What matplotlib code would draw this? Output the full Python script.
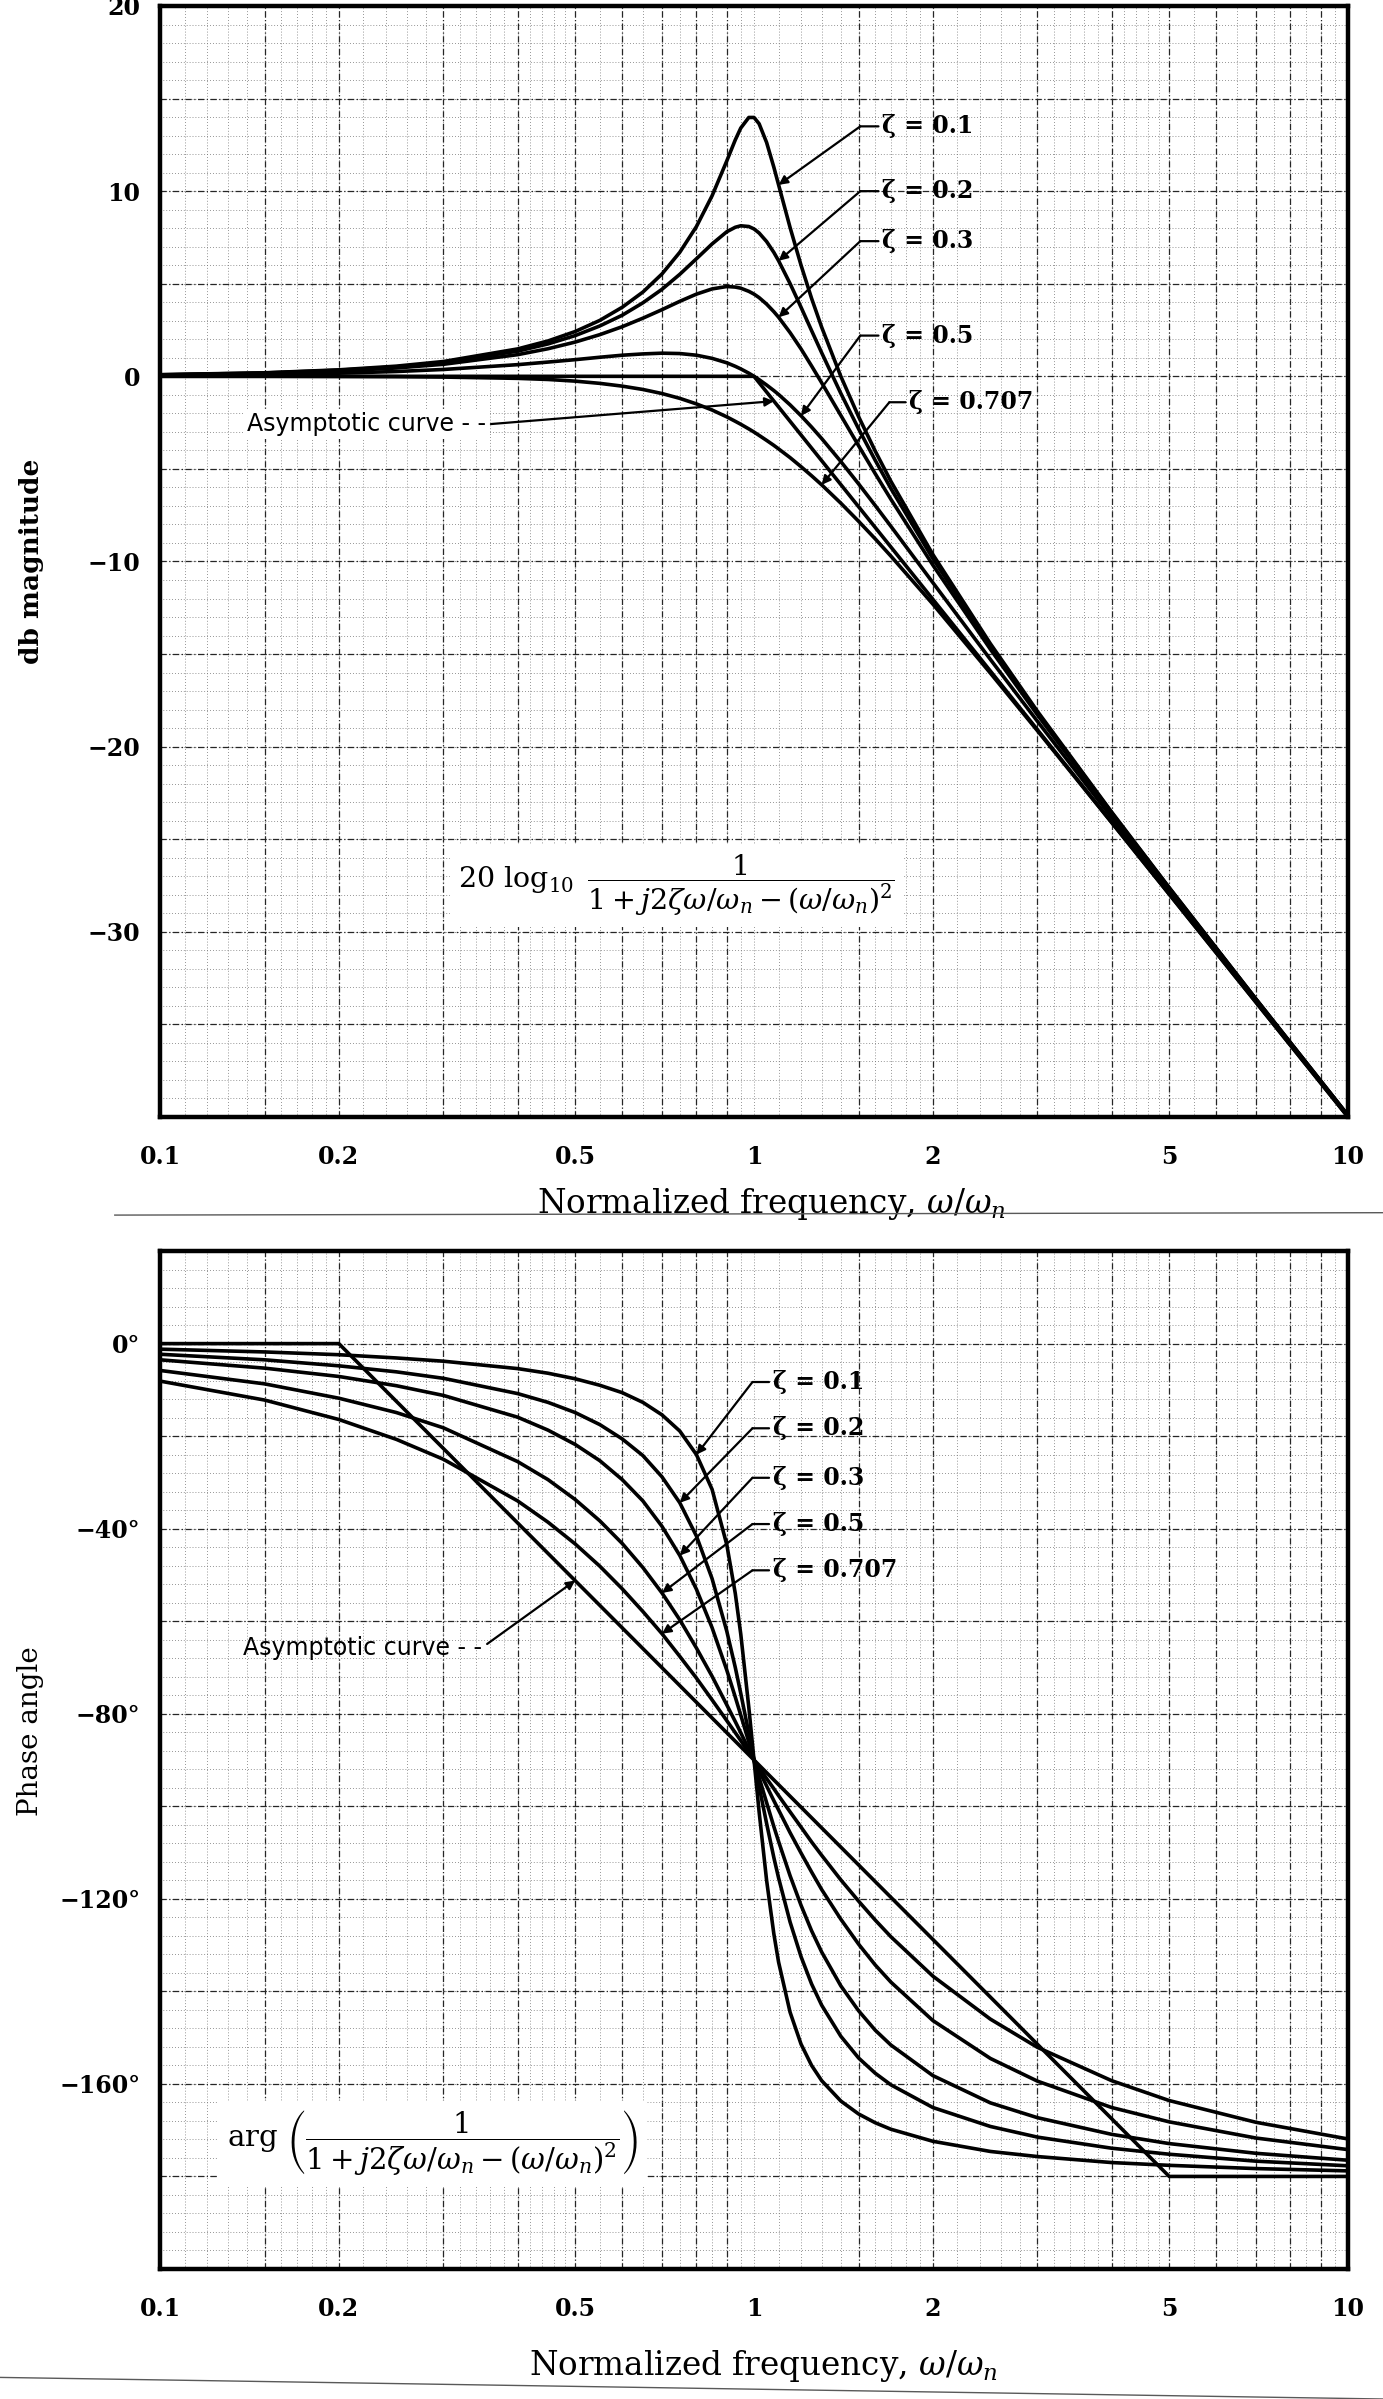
import numpy as np
import matplotlib.pyplot as plt
from matplotlib.lines import Line2D

plt.rcParams['mathtext.fontset'] = 'dejavuserif'

# normalized frequency points (omega / omega_n)
freq = [0.1, 0.15, 0.2, 0.25, 0.3, 0.4, 0.45, 0.5, 0.55, 0.6, 0.65, 0.7, 0.75, 0.8, 0.85, 0.9, 0.93, 0.95, 0.98,
        1.0, 1.02, 1.05, 1.08, 1.1, 1.15, 1.2, 1.25, 1.3, 1.4, 1.5, 1.6, 1.7, 2.0, 2.5, 3.0, 4.0, 5.0, 7.0, 10.0]

# db magnitude
db_z01 = [0.09, 0.19, 0.35, 0.55, 0.80, 1.48, 1.91, 2.42, 3.02, 3.73, 4.55, 5.53, 6.70, 8.09, 9.75, 11.64, 12.77, 13.41, 13.98,
          13.98, 13.64, 12.63, 11.29, 10.34, 8.04, 6.00, 4.21, 2.65, 0.00, -2.18, -4.04, -5.67, -9.62, -14.44, -18.09, -23.53, -27.61, -33.63, -39.91]
db_z02 = [0.08, 0.18, 0.33, 0.51, 0.74, 1.36, 1.75, 2.20, 2.72, 3.30, 3.97, 4.70, 5.51, 6.35, 7.15, 7.81, 8.05, 8.13, 8.09,
          7.96, 7.74, 7.28, 6.69, 6.24, 5.01, 3.73, 2.47, 1.27, -0.92, -2.84, -4.54, -6.06, -9.84, -14.56, -18.16, -23.57, -27.63, -33.64, -39.92]
db_z03 = [0.07, 0.16, 0.29, 0.45, 0.65, 1.17, 1.49, 1.85, 2.25, 2.68, 3.14, 3.60, 4.05, 4.44, 4.72, 4.85, 4.82, 4.76, 4.59,
          4.44, 4.25, 3.90, 3.49, 3.19, 2.36, 1.48, 0.56, -0.35, -2.11, -3.75, -5.26, -6.64, -10.19, -14.74, -18.28, -23.63, -27.67, -33.66, -39.93]
db_z05 = [0.04, 0.10, 0.17, 0.26, 0.37, 0.63, 0.77, 0.90, 1.03, 1.14, 1.21, 1.25, 1.23, 1.14, 0.97, 0.73, 0.54, 0.40, 0.17,
          0.00, -0.18, -0.47, -0.77, -0.98, -1.54, -2.13, -2.74, -3.36, -4.60, -5.81, -6.98, -8.10, -11.14, -15.29, -18.63, -23.82, -27.79, -33.72, -39.96]
db_z0707 = [0.00, 0.00, -0.01, -0.02, -0.04, -0.11, -0.17, -0.26, -0.38, -0.53, -0.71, -0.93, -1.19, -1.49, -1.82, -2.19, -2.43, -2.59, -2.84,
            -3.01, -3.19, -3.46, -3.73, -3.92, -4.39, -4.88, -5.37, -5.86, -6.85, -7.83, -8.78, -9.71, -12.30, -16.03, -19.14, -24.10, -27.97, -33.81, -40.00]

# phase angle (degrees)
ph_z01 = [-1.2, -1.8, -2.4, -3.1, -3.8, -5.4, -6.4, -7.6, -9.0, -10.6, -12.7, -15.4, -18.9, -24.0, -31.5, -43.5, -54.0, -62.8, -78.6,
          -90.0, -101.2, -116.0, -127.6, -133.7, -144.5, -151.4, -156.0, -159.3, -163.7, -166.5, -168.4, -169.8, -172.4, -174.6, -175.7, -177.0, -177.6, -178.3, -178.8]
ph_z02 = [-2.3, -3.5, -4.8, -6.1, -7.5, -10.8, -12.7, -14.9, -17.5, -20.6, -24.2, -28.8, -34.4, -41.6, -50.8, -62.2, -70.0, -75.6, -84.2,
          -90.0, -95.7, -103.7, -111.1, -115.5, -125.0, -132.5, -138.4, -143.0, -149.7, -154.4, -157.7, -160.2, -165.1, -169.2, -171.5, -173.9, -175.2, -176.7, -177.7]
ph_z03 = [-3.5, -5.3, -7.1, -9.1, -11.2, -15.9, -18.7, -21.8, -25.3, -29.4, -34.0, -39.5, -45.8, -53.1, -61.4, -70.6, -76.4, -80.3, -86.1,
          -90.0, -93.8, -99.2, -104.4, -107.6, -115.0, -121.4, -126.9, -131.5, -138.8, -144.2, -148.4, -151.6, -158.2, -164.1, -167.3, -170.9, -172.9, -175.0, -176.5]
ph_z05 = [-5.8, -8.7, -11.8, -14.9, -18.2, -25.5, -29.4, -33.7, -38.3, -43.2, -48.4, -53.9, -59.7, -65.8, -71.9, -78.1, -81.7, -84.1, -87.7,
          -90.0, -92.3, -95.6, -98.8, -100.8, -105.7, -110.1, -114.2, -118.0, -124.4, -129.8, -134.3, -138.0, -146.3, -154.5, -159.4, -165.1, -168.2, -171.7, -174.2]
ph_z0707 = [-8.1, -12.2, -16.4, -20.7, -25.0, -34.0, -38.6, -43.3, -48.1, -53.0, -57.9, -62.7, -67.6, -72.3, -77.0, -81.5, -84.1, -85.8, -88.4,
            -90.0, -91.6, -94.0, -96.2, -97.7, -101.2, -104.5, -107.7, -110.6, -115.9, -120.5, -124.6, -128.2, -136.7, -146.0, -152.1, -159.3, -163.6, -168.3, -171.9]

# asymptotic curves
asym_db_freq = [0.1, 1.0, 10.0]
asym_db = [0, 0, -40]
asym_ph_freq = [0.1, 0.2, 5.0, 10.0]
asym_ph = [0, 0, -180, -180]

zeta_labels = ['0.1', '0.2', '0.3', '0.5', '0.707']
db_curves = [db_z01, db_z02, db_z03, db_z05, db_z0707]
ph_curves = [ph_z01, ph_z02, ph_z03, ph_z05, ph_z0707]

xticks = [0.1, 0.2, 0.5, 1, 2, 5, 10]
xtick_labels = ['0.1', '0.2', '0.5', '1', '2', '5', '10']
db_ticks = [20, 10, 0, -10, -20, -30]
db_tick_labels = ['20', '10', '0', '−10', '−20', '−30']
ph_ticks = [0, -40, -80, -120, -160]
ph_tick_labels = ['0°', '−40°', '−80°', '−120°', '−160°']

SERIF = 'DejaVu Serif'
LW = 2.6


def paper_grid(ax, fine_step, mid_step, ymin, ymax):
    # log graph paper look
    fine = list(np.arange(1.0, 2.0, 0.1)) + list(np.arange(2.0, 5.0, 0.2)) + list(np.arange(5.0, 10.0, 0.5))
    for dec in (0.1, 1.0):
        for m in fine:
            ax.axvline(m * dec, color='0.45', lw=0.6, ls=(0, (1, 2.5)), zorder=0)
        for m in (1.5, 2, 3, 4, 5, 6, 7, 8, 9):
            ax.axvline(m * dec, color='0.15', lw=0.9, ls=(0, (5, 2, 1, 2)), zorder=0)
    for y in np.arange(ymin, ymax + 0.01, fine_step):
        ax.axhline(y, color='0.45', lw=0.6, ls=(0, (1, 2.5)), zorder=0)
    for y in np.arange(ymin, ymax + 0.01, mid_step):
        ax.axhline(y, color='0.15', lw=0.9, ls=(0, (5, 2, 1, 2)), zorder=0)


def style_axes(ax):
    ax.set_xscale('log')
    ax.set_xlim(0.1, 10)
    ax.set_xticks(xticks)
    ax.set_xticklabels(xtick_labels)
    ax.minorticks_off()
    ax.tick_params(length=0, labelsize=17, pad=20)
    ax.tick_params(axis='y', pad=14)
    for lab in ax.get_xticklabels() + ax.get_yticklabels():
        lab.set_family(SERIF)
        lab.set_fontweight('bold')
    for sp in ax.spines.values():
        sp.set_linewidth(3.2)


def leader(ax, text, tip, corner, textpos, size=17):
    ax.annotate('', xy=tip, xytext=corner,
                arrowprops=dict(arrowstyle='-|>', color='k', lw=1.6, mutation_scale=13,
                                shrinkA=0, shrinkB=0))
    ax.annotate('', xy=corner, xytext=(textpos[0], textpos[1]),
                arrowprops=dict(arrowstyle='-', color='k', lw=1.6, shrinkA=0, shrinkB=0))
    ax.text(textpos[0] * 1.015, textpos[1], text, ha='left', va='center', fontsize=size,
            family=SERIF, fontweight='bold', zorder=5)


fig = plt.figure(figsize=(13.83, 23.99), dpi=100)
ax1 = fig.add_axes([0.1157, 0.5344, 0.859, 0.4631])
ax2 = fig.add_axes([0.1157, 0.0542, 0.859, 0.4243])

# ---- magnitude ----
paper_grid(ax1, 1, 5, -40, 20)
for vals in db_curves:
    ax1.plot(freq, vals, color='k', lw=LW, zorder=3)
ax1.plot(asym_db_freq, asym_db, color='k', lw=LW, zorder=3)
ax1.set_ylim(-40, 20)
ax1.set_yticks(db_ticks)
ax1.set_yticklabels(db_tick_labels)
style_axes(ax1)
ax1.set_ylabel('db magnitude', family=SERIF, fontsize=19, fontweight='bold')
ax1.yaxis.set_label_coords(-0.098, 0.5)
ax1.set_xlabel(r'Normalized frequency, $\omega/\omega_n$', family=SERIF, fontsize=23.5)
ax1.xaxis.set_label_coords(0.515, -0.062)

db_tips = [(1.1, 10.34), (1.1, 6.24), (1.1, 3.19), (1.2, -2.13), (1.3, -5.86)]
db_text_y = [13.5, 10.0, 7.3, 2.2, -1.4]
for i, lab in enumerate(zeta_labels):
    tx = 1.62 if i < 4 else 1.80
    cx = 1.51 if i < 4 else 1.69
    leader(ax1, 'ζ = ' + lab, db_tips[i], (cx, db_text_y[i]), (tx, db_text_y[i]))

ax1.annotate('Asymptotic curve - -', xy=(1.08, -1.34), xytext=(0.14, -2.6),
             ha='left', va='center', fontsize=17, family='DejaVu Sans',
             bbox=dict(boxstyle='square,pad=0.1', fc='white', ec='none'),
             arrowprops=dict(arrowstyle='-|>', color='k', lw=1.6, mutation_scale=13,
                             shrinkA=2, shrinkB=0, relpos=(1, 0.5)))

ax1.text(0.435, 0.208,
         r'$20\ \log_{10}\ \dfrac{1}{1 + j2\zeta\omega/\omega_n - (\omega/\omega_n)^2}$',
         transform=ax1.transAxes, ha='center', va='center', fontsize=20.5,
         bbox=dict(boxstyle='square,pad=0.3', fc='white', ec='none'), zorder=5)

# ---- phase ----
paper_grid(ax2, 4, 20, -200, 20)
for vals in ph_curves:
    ax2.plot(freq, vals, color='k', lw=LW, zorder=3)
ax2.plot(asym_ph_freq, asym_ph, color='k', lw=LW, zorder=3)
ax2.set_ylim(-200, 20)
ax2.set_yticks(ph_ticks)
ax2.set_yticklabels(ph_tick_labels)
style_axes(ax2)
ax2.set_ylabel('Phase angle', family=SERIF, fontsize=20)
ax2.yaxis.set_label_coords(-0.098, 0.528)
ax2.set_xlabel(r'Normalized frequency, $\omega/\omega_n$', family=SERIF, fontsize=23.5)
ax2.xaxis.set_label_coords(0.508, -0.078)

ph_tips = [(0.8, -24.0), (0.75, -34.4), (0.75, -45.8), (0.7, -53.9), (0.7, -62.7)]
ph_text_y = [-8.3, -18.3, -29.0, -39.0, -49.0]
for i, lab in enumerate(zeta_labels):
    leader(ax2, 'ζ = ' + lab, ph_tips[i], (0.994, ph_text_y[i]), (1.06, ph_text_y[i]))

ax2.annotate('Asymptotic curve - -', xy=(0.5, -51.2), xytext=(0.138, -65.7),
             ha='left', va='center', fontsize=17, family='DejaVu Sans',
             arrowprops=dict(arrowstyle='-|>', color='k', lw=1.6, mutation_scale=13,
                             shrinkA=2, shrinkB=0, relpos=(1, 0.5)))

ax2.text(0.229, 0.123,
         r'$\mathrm{arg}\ \left(\dfrac{1}{1 + j2\zeta\omega/\omega_n - (\omega/\omega_n)^2}\right)$',
         transform=ax2.transAxes, ha='center', va='center', fontsize=21,
         bbox=dict(boxstyle='square,pad=0.3', fc='white', ec='none'), zorder=5)

# page rules under the axis titles
fig.add_artist(Line2D([0.083, 1.0], [0.4935, 0.4945], color='0.35', lw=1))
fig.add_artist(Line2D([0.0, 1.0], [0.009, 0.0], color='0.35', lw=1))

fig.savefig('out.png', dpi=100, facecolor='white')
